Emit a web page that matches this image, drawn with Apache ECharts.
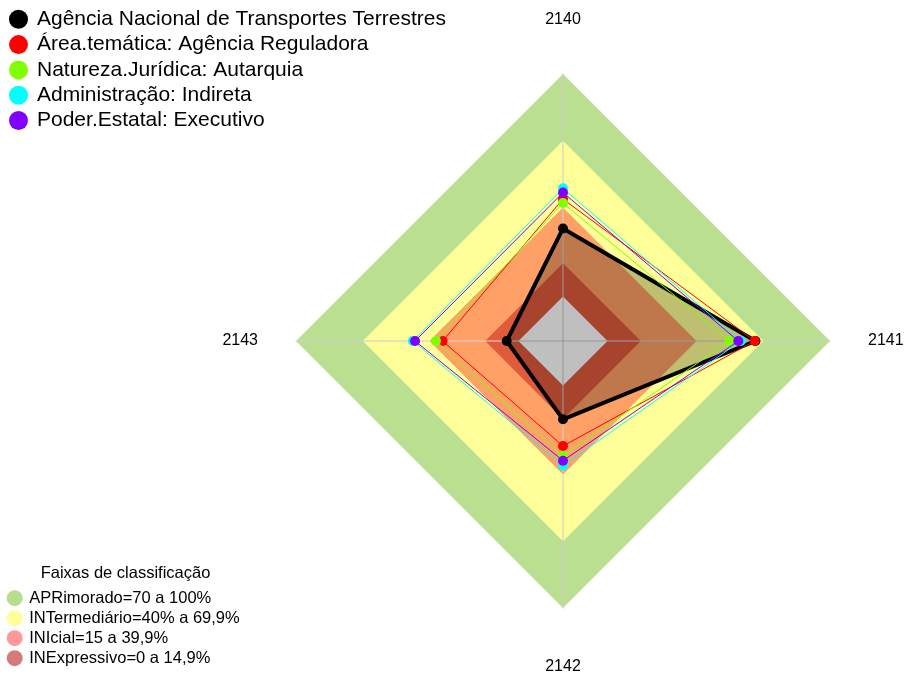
<!DOCTYPE html>
<html>
<head>
<meta charset="utf-8">
<script src="https://cdn.jsdelivr.net/npm/echarts@6/dist/echarts.min.js"></script>
<style>html,body{margin:0;padding:0;background:#fff}#c{width:905px;height:675px}</style>
</head>
<body>
<div id="c"></div>
<script>
// Indicators (counter-clockwise from top: top, left, bottom, right)
const indicators = ['2140', '2143', '2142', '2141'];
const seriesNames = [
  'Agência Nacional de Transportes Terrestres',
  'Área.temática: Agência Reguladora',
  'Natureza.Jurídica: Autarquia',
  'Administração: Indireta',
  'Poder.Estatal: Executivo'
];
const seriesColors = ['#000000', '#ff0000', '#80ff00', '#00ffff', '#8000ff'];
const valBlack  = [30.6, 5.3, 15.2, 66.5];
const valRed    = [43.8, 34.1, 27.2, 66.2];
const valGreen  = [42.0, 37.1, 31.7, 54.8];
const valCyan   = [48.6, 47.5, 36.0, 59.9];
const valPurple = [46.7, 46.5, 33.8, 58.8];
const seriesValues = [valBlack, valRed, valGreen, valCyan, valPurple];

// Classification bands
const bandNames = ['APRimorado=70 a 100%', 'INTermediário=40% a 69,9%', 'INIcial=15 a 39,9%', 'INExpressivo=0 a 14,9%'];
const bandLimits = [100, 70, 40, 15];
const bandFill = ['#badf90', '#ffff99', '#ffa066', '#e05a3c'];
const bandLegendColor = ['#b7dd8d', '#ffff99', '#ff9999', '#d47a7a'];

const font = "'Liberation Sans', Arial, sans-serif";
const chart = echarts.init(document.getElementById('c'), null, {renderer: 'canvas'});

const series = [];
bandNames.forEach((n, i) => {
  series.push({
    type: 'radar', name: n, z: 1, silent: true, symbol: 'none',
    itemStyle: {color: bandLegendColor[i]},
    lineStyle: {width: 0, opacity: 0},
    areaStyle: {color: bandFill[i], opacity: 1},
    emphasis: {disabled: true},
    data: [{value: indicators.map(() => bandLimits[i])}]
  });
});
series.push({
  type: 'radar', name: '_zero', z: 1, silent: true, symbol: 'none',
  lineStyle: {width: 0, opacity: 0},
  areaStyle: {color: '#ffffff', opacity: 1},
  emphasis: {disabled: true},
  data: [{value: indicators.map(() => 0)}]
});
seriesNames.forEach((n, i) => {
  const isMain = i === 0;
  series.push({
    type: 'radar', name: n, z: 5 + i, symbol: 'circle', symbolSize: 10,
    itemStyle: {color: seriesColors[i]},
    lineStyle: {color: seriesColors[i], width: isMain ? 4 : 1},
    areaStyle: isMain ? {color: 'rgba(0,0,0,0.25)', opacity: 1} : undefined,
    emphasis: {disabled: true},
    data: [{value: seriesValues[i]}]
  });
});

chart.setOption({
  animation: false,
  backgroundColor: '#ffffff',
  title: {
    text: 'Faixas de classificação', left: 40.7, top: 565, padding: 0,
    textStyle: {fontFamily: font, fontSize: 16.5, fontWeight: 'normal', color: '#000'}
  },
  legend: [
    {
      orient: 'vertical', left: 9, top: 8.8, padding: 0, icon: 'circle',
      itemWidth: 19, itemHeight: 19, itemGap: 4.3,
      textStyle: {fontFamily: font, fontSize: 21, color: '#000', padding: [0, 0, 0, 4]},
      data: seriesNames, selectedMode: false
    },
    {
      orient: 'vertical', left: 6.7, top: 589.7, padding: 0, height: 85, icon: 'circle',
      itemWidth: 16, itemHeight: 16, itemGap: 3,
      textStyle: {fontFamily: font, fontSize: 16.5, color: '#000', padding: [0, 0, 0, 1.5]},
      data: bandNames.map((n, i) => ({name: n, itemStyle: {color: bandLegendColor[i]}})),
      selectedMode: false
    }
  ],
  radar: {
    center: [563, 341], radius: 267, startAngle: 90, shape: 'polygon',
    splitNumber: 1, nameGap: 38, z: 3,
    indicator: indicators.map(n => ({name: n, min: -20, max: 100})),
    splitLine: {show: false}, splitArea: {show: false},
    axisLine: {lineStyle: {color: 'rgba(205,205,205,0.75)', width: 1.5}},
    axisName: {color: '#000', fontFamily: font, fontSize: 16, padding: [12.5, 0, 8, 0]}
  },
  series: series
});
</script>
</body>
</html>
